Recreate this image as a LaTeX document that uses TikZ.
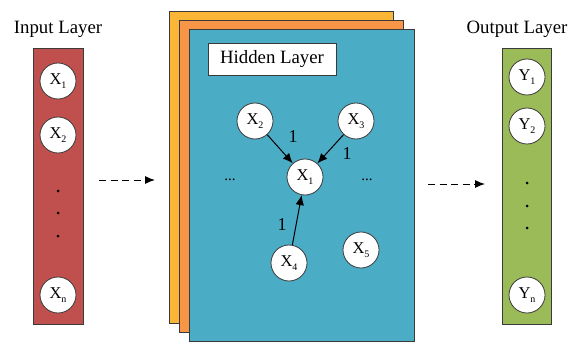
\documentclass[tikz,border=0pt]{standalone}
\usepackage{fontspec}
\setmainfont{Liberation Serif}
\usetikzlibrary{arrows.meta}
\definecolor{inred}{HTML}{C0504D}
\definecolor{outgreen}{HTML}{9BBB59}
\definecolor{sheetyellow}{HTML}{FBB638}
\definecolor{sheetorange}{HTML}{F79646}
\definecolor{sheetblue}{HTML}{4BACC6}
\definecolor{edge}{HTML}{3A3A3A}
\newcommand\sub[2]{#1\raisebox{-0.22em}{\fontsize{10}{10}\selectfont #2}}
\tikzset{
  panel/.style={draw=edge, line width=0.8pt},
  neuron/.style={circle, draw=edge, fill=white, line width=0.8pt, minimum size=36pt, inner sep=0pt, font=\fontsize{16.5}{16.5}\selectfont},
  title/.style={font=\fontsize{18.8}{18.8}\selectfont},
  weight/.style={font=\fontsize{18}{18}\selectfont},
  link/.style={line width=1pt, -{Latex[length=10pt,width=8.5pt]}},
  flow/.style={line width=1pt, dash pattern=on 7pt off 4.5pt, -{Latex[length=10pt,width=8pt]}},
  dot/.style={circle, fill=black, inner sep=0pt, minimum size=3pt},
}
\begin{document}
\begin{tikzpicture}[x=1pt, y=-1pt]
\useasboundingbox (0,0) rectangle (581,342);

% input column
\node[title] (inTitle) at (58,29) {Input Layer};
\draw[panel, fill=inred] (33,48) rectangle (83,324);
\node[neuron] (in1) at (58,81) {\sub{X}{1}};
\node[neuron] (in2) at (58,135) {\sub{X}{2}};
\node[dot] (ind1) at (58,191) {};
\node[dot] (ind2) at (58,213) {};
\node[dot] (ind3) at (58,236) {};
\node[neuron] (inn) at (58,295) {\sub{X}{n}};

% stacked hidden sheets
\draw[panel, fill=sheetyellow] (169,11) rectangle (393,323);
\draw[panel, fill=sheetorange] (179,20) rectangle (403,332);
\draw[panel, fill=sheetblue] (189,29) rectangle (414,341);
\node[draw=edge, fill=white, line width=0.8pt, minimum width=128pt, minimum height=32pt, title] (hidTitle) at (272,59) {Hidden Layer};

\node[neuron] (h2) at (255,121) {\sub{X}{2}};
\node[neuron] (h3) at (356,121) {\sub{X}{3}};
\node[neuron] (h1) at (305,177) {\sub{X}{1}};
\node[neuron] (h4) at (289,263) {\sub{X}{4}};
\node[neuron] (h5) at (361,250) {\sub{X}{5}};
\node[font=\fontsize{15}{15}\selectfont] (hl) at (230,180) {...};
\node[font=\fontsize{15}{15}\selectfont] (hr) at (367,180) {...};

\draw[link] (h2) -- (h1);
\draw[link] (h3) -- (h1);
\draw[link] (h4) -- (h1);
\node[weight] (w2) at (293,137) {1};
\node[weight] (w3) at (347,154) {1};
\node[weight] (w4) at (282,225) {1};

% output column
\node[title] (outTitle) at (517,29) {Output Layer};
\draw[panel, fill=outgreen] (502,48) rectangle (551,324);
\node[neuron] (out1) at (527,77) {\sub{Y}{1}};
\node[neuron] (out2) at (527,126) {\sub{Y}{2}};
\node[dot] (outd1) at (527,183) {};
\node[dot] (outd2) at (527,206) {};
\node[dot] (outd3) at (527,228) {};
\node[neuron] (outn) at (527,295) {\sub{Y}{n}};

% data flow between layers
\coordinate (a1s) at (99,180);
\coordinate (a1e) at (155,180);
\coordinate (a2s) at (428,184);
\coordinate (a2e) at (485,184);
\draw[flow] (a1s) -- (a1e);
\draw[flow] (a2s) -- (a2e);
\end{tikzpicture}
\end{document}
